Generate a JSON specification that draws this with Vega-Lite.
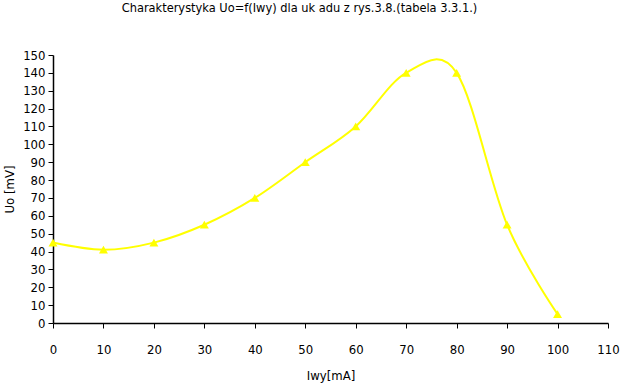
{
  "$schema": "https://vega.github.io/schema/vega-lite/v6.json",
  "width": 555,
  "height": 268,
  "autosize": {"type": "none"},
  "padding": {"left": 53, "top": 55, "right": 12, "bottom": 66},
  "background": "white",
  "title": {
    "text": "Charakterystyka Uo=f(Iwy) dla uk adu z rys.3.8.(tabela 3.3.1.)",
    "font": "DejaVu Sans Condensed, Liberation Sans, sans-serif",
    "fontSize": 12.7,
    "fontWeight": "normal",
    "color": "black",
    "anchor": "middle",
    "dx": -31,
    "offset": 34
  },
  "config": {
    "view": {"stroke": null},
    "font": "DejaVu Sans Condensed, Liberation Sans, sans-serif",
    "axis": {
      "grid": false,
      "domainColor": "black",
      "domainWidth": 1.5,
      "tickColor": "black",
      "tickWidth": 1,
      "tickSize": 5,
      "labelColor": "black",
      "labelFont": "DejaVu Sans Condensed, Liberation Sans, sans-serif",
      "labelFontSize": 13,
      "titleFont": "DejaVu Sans Condensed, Liberation Sans, sans-serif",
      "titleFontSize": 13,
      "titleFontWeight": "normal",
      "titleColor": "black"
    }
  },
  "data": {
    "values": [
      {"Iwy": 0, "Uo": 45},
      {"Iwy": 10, "Uo": 41},
      {"Iwy": 20, "Uo": 45},
      {"Iwy": 30, "Uo": 55},
      {"Iwy": 40, "Uo": 70},
      {"Iwy": 50, "Uo": 90},
      {"Iwy": 60, "Uo": 110},
      {"Iwy": 70, "Uo": 140},
      {"Iwy": 80, "Uo": 140},
      {"Iwy": 90, "Uo": 55},
      {"Iwy": 100, "Uo": 5}
    ]
  },
  "encoding": {
    "x": {
      "field": "Iwy",
      "type": "quantitative",
      "scale": {"domain": [0, 110], "nice": false, "zero": false},
      "axis": {
        "title": "Iwy[mA]",
        "values": [0, 10, 20, 30, 40, 50, 60, 70, 80, 90, 100, 110],
        "labelPadding": 15,
        "labelFlush": false,
        "titlePadding": 13
      }
    },
    "y": {
      "field": "Uo",
      "type": "quantitative",
      "scale": {"domain": [0, 150], "nice": false},
      "axis": {
        "title": "Uo [mV]",
        "values": [0, 10, 20, 30, 40, 50, 60, 70, 80, 90, 100, 110, 120, 130, 140, 150],
        "labelPadding": 3,
        "labelFlush": false,
        "titlePadding": 6
      }
    }
  },
  "layer": [
    {
      "mark": {"type": "line", "color": "#FFFF00", "strokeWidth": 2, "interpolate": "cardinal", "tension": 0}
    },
    {
      "mark": {"type": "point", "shape": "triangle-up", "filled": true, "color": "#FFFF00", "opacity": 1, "size": 80}
    }
  ]
}
